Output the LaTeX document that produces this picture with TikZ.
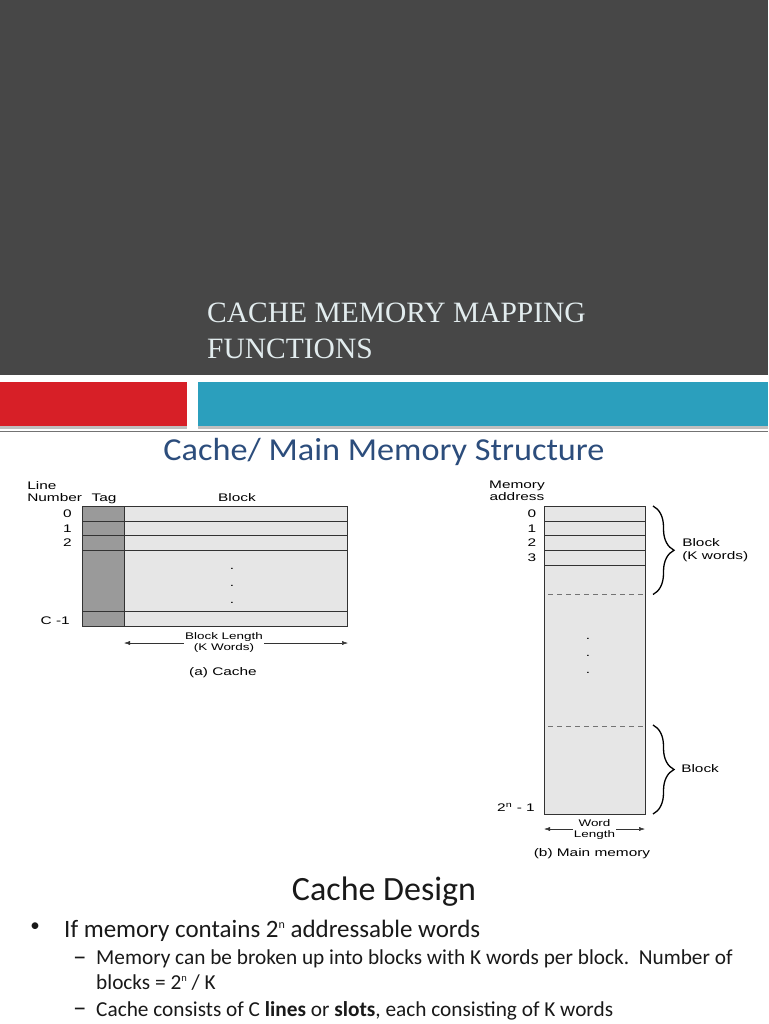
\documentclass[tikz,border=0pt]{standalone}
\usepackage{fontspec}
\setmainfont{Carlito}
\newfontfamily\titlefont{Liberation Serif}
\newfontfamily\arialfont{Liberation Sans}
\usetikzlibrary{decorations.pathreplacing,arrows.meta}
\definecolor{bandgray}{HTML}{474747}
\definecolor{titletext}{HTML}{E2ECEE}
\definecolor{redbar}{HTML}{D71F27}
\definecolor{bluebar}{HTML}{2B9FBD}
\definecolor{headblue}{HTML}{2C4D7C}
\definecolor{tagfill}{HTML}{9A9A9A}
\definecolor{blockfill}{HTML}{E6E6E6}
\definecolor{framecol}{HTML}{333333}
\newcommand{\supn}{\raisebox{0.75ex}{\fontsize{12}{12}\selectfont n}}
\newcommand{\supnb}{\raisebox{0.75ex}{\fontsize{10.5}{11}\selectfont n}}
\begin{document}
\begin{tikzpicture}[x=1pt,y=-1pt,
  lbl/.style={font=\arialfont\fontsize{11}{12.5}\selectfont, xscale=1.4, inner sep=0pt, text=black},
  smlbl/.style={font=\arialfont\fontsize{9.6}{11}\selectfont, xscale=1.4, inner sep=0pt, text=black},
  frame/.style={draw=framecol, line width=0.8pt},
  rowline/.style={draw=framecol, line width=0.7pt},
  dashline/.style={draw=black!55, line width=0.8pt, dash pattern=on 5pt off 4pt},
  bracestyle/.style={decorate, decoration={brace, amplitude=21pt}, line width=1.3pt},
  dimarrow/.style={{Latex[length=6pt,width=4pt]}-{Latex[length=6pt,width=4pt]}, line width=0.5pt, draw=black!80},
  heading/.style={font=\fontsize{32}{35}\selectfont, xscale=1.07, text=headblue, inner sep=0pt},
  titletxt/.style={font=\titlefont\fontsize{29.5}{32}\selectfont, text=titletext, inner sep=0pt, anchor=base west},
  bodyA/.style={font=\fontsize{25}{28}\selectfont, text=black!90, inner sep=0pt, anchor=base west},
  bodyB/.style={font=\fontsize{21.3}{24}\selectfont, text=black!90, inner sep=0pt, anchor=base west},
  dashmark/.style={font=\fontsize{27}{28}\selectfont, text=black!90, inner sep=0pt, anchor=base west}
]
\useasboundingbox (0,0) rectangle (768,1024);
\fill[white] (0,0) rectangle (768,1024);
% header band
\fill[bandgray] (0,0) rectangle (768,375);
\node[titletxt] (t1) at (207,322) {CACHE MEMORY MAPPING};
\node[titletxt] (t2) at (207,358) {FUNCTIONS};
% bars
\fill[black!25] (0,426) rectangle (187,428.5);
\fill[black!25] (198,426) rectangle (768,428.5);
\fill[redbar] (0,382) rectangle (187,426);
\fill[bluebar] (198,382) rectangle (768,426);
\draw[black!55, line width=0.9pt] (0,431.5) -- (768,431.5);
% heading
\node[heading] (head) at (384,452) {Cache/ Main Memory Structure};

% ---------- Cache ----------
\fill[tagfill] (82.5,506) rectangle (124,626);
\fill[blockfill] (124,506) rectangle (347.5,626);
\draw[rowline] (82.5,521) -- (347.5,521);
\draw[rowline] (82.5,535.7) -- (347.5,535.7);
\draw[rowline] (82.5,550.5) -- (347.5,550.5);
\draw[rowline] (82.5,611.5) -- (347.5,611.5);
\draw[rowline] (124,506) -- (124,626);
\draw[frame] (82.5,506) rectangle (347.5,626);
\node[lbl, anchor=base west] (cl1) at (27,489) {Line};
\node[lbl, anchor=base west] (cl2) at (27,501.7) {Number};
\node[lbl, anchor=base] (ctag) at (104,501.7) {Tag};
\node[lbl, anchor=base] (cblk) at (237,501.7) {Block};
\node[lbl] (c0) at (67.5,513.5) {0};
\node[lbl] (c1) at (67.5,528.3) {1};
\node[lbl] (c2) at (67.5,543.1) {2};
\node[lbl, anchor=east] (cc) at (70,620.5) {C -1};
\node[lbl] (cd1) at (232,569) {.};
\node[lbl] (cd2) at (232,586) {.};
\node[lbl] (cd3) at (232,603) {.};
\coordinate (ca1) at (124,643);
\coordinate (ca2) at (348,643);
\draw[dimarrow] (ca1) -- (ca2);
\node[smlbl, fill=white, inner sep=1pt, align=center] (clen) at (224,642.5) {Block Length\\(K Words)};
\node[lbl, anchor=base] (ccap) at (223,675.5) {(a) Cache};

% ---------- Main memory ----------
\fill[blockfill] (544,506) rectangle (645,814);
\draw[rowline] (544,521) -- (645,521);
\draw[rowline] (544,535.7) -- (645,535.7);
\draw[rowline] (544,550.3) -- (645,550.3);
\draw[rowline] (544,565) -- (645,565);
\draw[dashline] (548,594.3) -- (645,594.3);
\draw[dashline] (548,726.7) -- (645,726.7);
\draw[frame] (544,506) rectangle (645,814);
\node[lbl, anchor=base] (mm1) at (517,488) {Memory};
\node[lbl, anchor=base] (mm2) at (517,500.5) {address};
\node[lbl] (m0) at (532,513.5) {0};
\node[lbl] (m1) at (532,528.3) {1};
\node[lbl] (m2) at (532,543) {2};
\node[lbl] (m3) at (532,557.6) {3};
\node[lbl] (md1) at (588,639) {.};
\node[lbl] (md2) at (588,656) {.};
\node[lbl] (md3) at (588,673) {.};
\coordinate (b1s) at (653,506);
\coordinate (b1e) at (653,594.5);
\draw[bracestyle] (b1s) -- (b1e);
\node[lbl, anchor=west, align=left] (mb1) at (682,550) {Block\\(K words)};
\coordinate (b2s) at (653,725);
\coordinate (b2e) at (653,814);
\draw[bracestyle] (b2s) -- (b2e);
\node[lbl, anchor=west] (mb2) at (681,769) {Block};
\node[lbl, anchor=east] (mlast) at (535,807) {2\textsuperscript{n} - 1};
\coordinate (ma1) at (544,829);
\coordinate (ma2) at (645,829);
\draw[dimarrow] (ma1) -- (ma2);
\node[smlbl, fill=white, inner sep=1pt, align=center] (mlen) at (594.5,829.5) {Word\\Length};
\node[lbl, anchor=base] (mcap) at (592,856.5) {(b) Main memory};

% ---------- text ----------
\node[font=\fontsize{34}{38}\selectfont, inner sep=0pt, anchor=base, text=black!90] (design) at (384,900) {Cache Design};
\node[font=\fontsize{19}{20}\selectfont, inner sep=0pt, text=black!90] (bul) at (35,927) {\textbullet};
\node[bodyA] (l1) at (64,937) {If memory contains 2\supn\ addressable words};
\node[dashmark] (d1) at (73,965) {\textendash};
\node[bodyB] (l2) at (96,964.5) {Memory can be broken up into blocks with K words per block.\ \ Number of};
\node[bodyB] (l3) at (96,989) {blocks = 2\supnb\ / K};
\node[dashmark] (d2) at (73,1016.5) {\textendash};
\node[bodyB] (l4) at (96,1016) {Cache consists of C \textbf{lines} or \textbf{slots}, each consisting of K words};
\end{tikzpicture}
\end{document}
